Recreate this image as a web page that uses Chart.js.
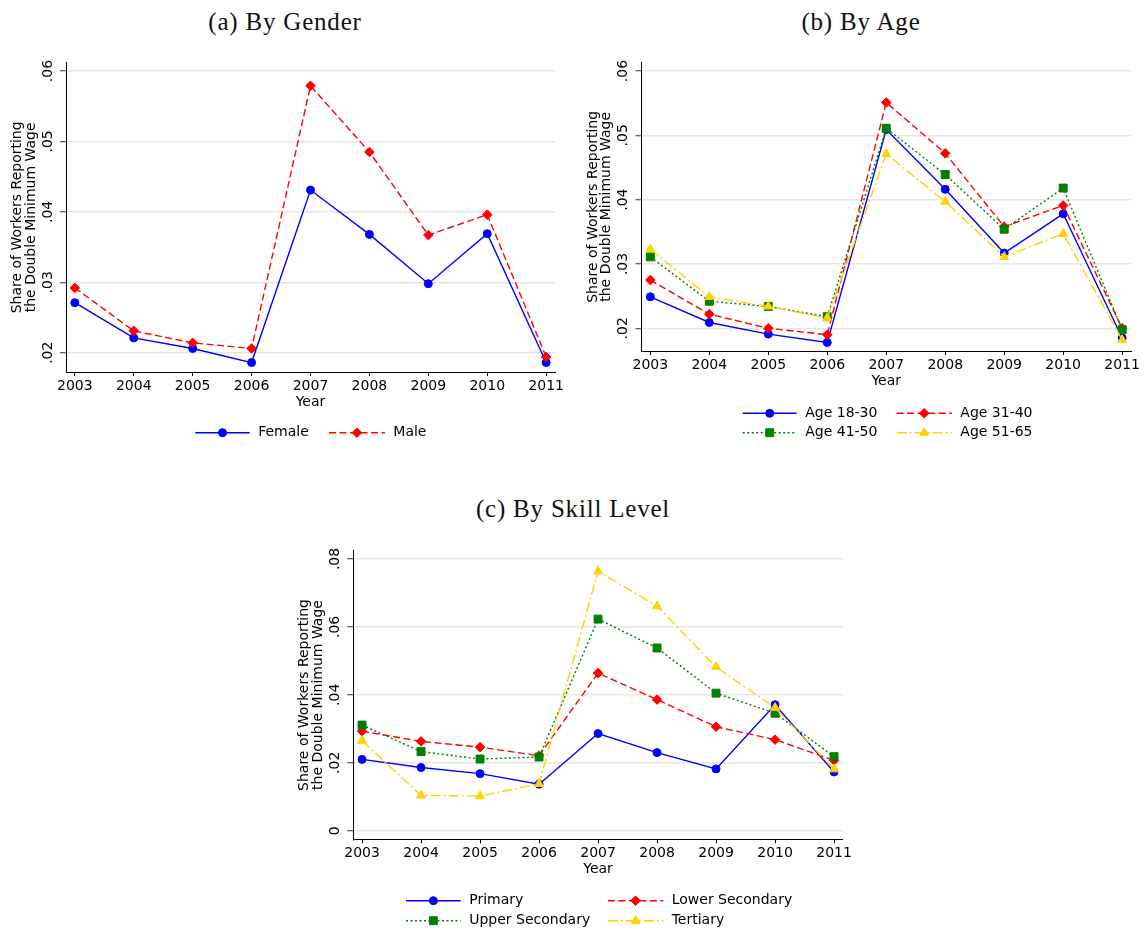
<!DOCTYPE html>
<html>
<head>
<meta charset="utf-8">
<script src="https://cdn.jsdelivr.net/npm/chart.js"></script>
<style>
  body { margin: 0; background: #fff; }
  #page { position: relative; width: 1146px; height: 931px; overflow: hidden; }
  canvas { position: absolute; }
  .panel-title {
    position: absolute; width: 400px; text-align: center;
    font-family: "Liberation Serif", serif; font-size: 25px; line-height: 30px;
    letter-spacing: 0.8px; color: #111;
  }
</style>
</head>
<body>
<div id="page">
  <div class="panel-title" style="left:85px; top:7px;">(a) By Gender</div>
  <div class="panel-title" style="left:661px; top:7px;">(b) By Age</div>
  <div class="panel-title" style="left:373px; top:494px;">(c) By Skill Level</div>
  <canvas id="genderChart" width="573" height="460" style="left:0; top:0;"></canvas>
  <canvas id="ageChart" width="573" height="460" style="left:573px; top:0;"></canvas>
  <canvas id="skillChart" width="580" height="461" style="left:280px; top:470px;"></canvas>
</div>
<script>
const years = [2003, 2004, 2005, 2006, 2007, 2008, 2009, 2010, 2011];

// (a) gender
const femaleShare = [0.0271, 0.0221, 0.0206, 0.0186, 0.0431, 0.0368, 0.0298, 0.0369, 0.0186];
const maleShare   = [0.0292, 0.0231, 0.0214, 0.0206, 0.0579, 0.0485, 0.0367, 0.0396, 0.0194];

// (b) age groups
const age1830 = [0.0249, 0.0209, 0.0191, 0.0178, 0.0509, 0.0416, 0.0317, 0.0378, 0.0185];
const age3140 = [0.0275, 0.0222, 0.0200, 0.0190, 0.0551, 0.0472, 0.0358, 0.0391, 0.0200];
const age4150 = [0.0311, 0.0242, 0.0234, 0.0218, 0.0511, 0.0439, 0.0354, 0.0418, 0.0198];
const age5165 = [0.0323, 0.0249, 0.0234, 0.0216, 0.0471, 0.0397, 0.0311, 0.0347, 0.0182];

// (c) skill level
const primaryShare   = [0.0210, 0.0186, 0.0168, 0.0137, 0.0286, 0.0230, 0.0182, 0.0371, 0.0173];
const lowerSecShare  = [0.0293, 0.0263, 0.0246, 0.0221, 0.0464, 0.0386, 0.0306, 0.0268, 0.0207];
const upperSecShare  = [0.0311, 0.0233, 0.0211, 0.0217, 0.0623, 0.0538, 0.0405, 0.0346, 0.0218];
const tertiaryShare  = [0.0265, 0.0104, 0.0102, 0.0138, 0.0764, 0.0661, 0.0482, 0.0362, 0.0181];

const shareTicks = [0.02, 0.03, 0.04, 0.05, 0.06];
const shareTickLabels = [".02", ".03", ".04", ".05", ".06"];
const skillTicks = [0, 0.02, 0.04, 0.06, 0.08];
const skillTickLabels = ["0", ".02", ".04", ".06", ".08"];

const yTitle = ["Share of Workers Reporting", "the Double Minimum Wage"];

Chart.defaults.font.family = '"DejaVu Sans", sans-serif';
Chart.defaults.font.size = 14;
Chart.defaults.color = "#000";

// stata-like line/marker combos
const looks = {
  blue:  { color: "#0000ff", dash: [],            pointStyle: "circle",   radius: 4 },
  red:   { color: "#ff0000", dash: [7, 3.5],      pointStyle: "rectRot",  radius: 4.8 },
  green: { color: "#008000", dash: [2, 2.5],      pointStyle: "rect",     radius: 5.6 },
  gold:  { color: "#ffd200", dash: [10, 3, 2, 3], pointStyle: "triangle", radius: 5.2 }
};

function makeSeries(label, values, look, order) {
  return {
    label: label,
    data: values.map((v, k) => ({ x: years[k], y: v })),
    borderColor: look.color,
    backgroundColor: look.color,
    borderWidth: 1.4,
    borderDash: look.dash,
    pointStyle: look.pointStyle,
    pointRadius: look.radius,
    pointBorderWidth: 1,
    pointBackgroundColor: look.color,
    pointBorderColor: look.color,
    tension: 0,
    order: order
  };
}

function drawMarker(ctx, ds, x, y) {
  ctx.fillStyle = ds.pointBackgroundColor;
  ctx.strokeStyle = ds.pointBorderColor;
  ctx.lineWidth = ds.pointBorderWidth;
  Chart.helpers.drawPoint(ctx, {
    pointStyle: ds.pointStyle, radius: ds.pointRadius, rotation: 0, borderWidth: ds.pointBorderWidth
  }, x, y);
}

// rotated y tick labels, two-line y title, "Year" and the legend
const stataFrame = {
  id: "stataFrame",
  afterDraw(chart, args, opts) {
    const ctx = chart.ctx;
    const area = chart.chartArea;
    const yScale = chart.scales.y;
    ctx.save();
    ctx.fillStyle = "#000";
    ctx.font = '14px "DejaVu Sans"';
    ctx.textAlign = "center";
    ctx.textBaseline = "middle";

    yScale.ticks.forEach((t) => {
      const i = opts.tickValues.indexOf(t.value);
      const y = yScale.getPixelForValue(t.value);
      ctx.save();
      ctx.translate(area.left - 18, y);
      ctx.rotate(-Math.PI / 2);
      ctx.fillText(opts.tickLabels[i], 0, 0);
      ctx.restore();
    });

    const midY = (area.top + area.bottom) / 2;
    yTitle.forEach((line, i) => {
      ctx.save();
      ctx.translate(area.left - 48.5 + i * 13.5, midY);
      ctx.rotate(-Math.PI / 2);
      ctx.fillText(line, 0, 0);
      ctx.restore();
    });

    ctx.fillText("Year", (area.left + area.right) / 2, area.bottom + 30);

    opts.legend.forEach((item) => {
      const ds = chart.data.datasets[item.index];
      ctx.save();
      ctx.strokeStyle = ds.borderColor;
      ctx.lineWidth = ds.borderWidth;
      ctx.setLineDash(ds.borderDash);
      ctx.beginPath();
      ctx.moveTo(item.x0, item.y);
      ctx.lineTo(item.x1, item.y);
      ctx.stroke();
      ctx.setLineDash([]);
      drawMarker(ctx, ds, (item.x0 + item.x1) / 2, item.y);
      ctx.restore();
      ctx.textAlign = "left";
      ctx.fillText(ds.label, item.x1 + 8.5, item.y);
    });
    ctx.restore();
  }
};

function buildChart(id, datasets, yMin, yMax, tickValues, tickLabels, padding, legend) {
  return new Chart(document.getElementById(id), {
    type: "line",
    data: { datasets: datasets },
    plugins: [stataFrame],
    options: {
      responsive: false,
      animation: false,
      layout: { autoPadding: false, padding: padding },
      plugins: {
        legend: { display: false },
        title: { display: false },
        tooltip: { enabled: false },
        stataFrame: { tickValues: tickValues, tickLabels: tickLabels, legend: legend }
      },
      scales: {
        x: {
          type: "linear",
          min: 2002.85,
          max: 2011.15,
          afterBuildTicks: (s) => { s.ticks = years.map((v) => ({ value: v })); },
          afterFit: (s) => { s.height = 40; },
          ticks: { callback: (v) => String(v), padding: 2, maxRotation: 0, autoSkip: false, color: "#000" },
          grid: { drawOnChartArea: false, drawTicks: true, tickLength: 4, tickColor: "#000", tickWidth: 1 },
          border: { display: true, color: "#000", width: 1 }
        },
        y: {
          type: "linear",
          min: yMin,
          max: yMax,
          afterBuildTicks: (s) => { s.ticks = tickValues.map((v) => ({ value: v })); },
          afterFit: (s) => { s.width = 56; },
          ticks: { display: false },
          grid: { color: "#e6e6e6", lineWidth: 1.5, drawTicks: true, tickLength: 6, tickColor: "#333", tickWidth: 1 },
          border: { display: true, color: "#000", width: 1 }
        }
      }
    }
  });
}

buildChart("genderChart", [
  makeSeries("Female", femaleShare, looks.blue, 2),
  makeSeries("Male", maleShare, looks.red, 1)
], 0.01726, 0.06118, shareTicks, shareTickLabels,
  { left: 10, right: 18, top: 62.7, bottom: 48 },
  [
    { index: 0, x0: 195.3, x1: 249.7, y: 432.7 },
    { index: 1, x0: 329, x1: 384.8, y: 432.7 }
  ]);

buildChart("ageChart", [
  makeSeries("Age 18-30", age1830, looks.blue, 4),
  makeSeries("Age 31-40", age3140, looks.red, 3),
  makeSeries("Age 41-50", age4150, looks.green, 2),
  makeSeries("Age 51-65", age5165, looks.gold, 1)
], 0.01647, 0.06129, shareTicks, shareTickLabels,
  { left: 12.5, right: 15, top: 62.7, bottom: 69 },
  [
    { index: 0, x0: 742.7 - 573, x1: 796.7 - 573, y: 413.3 },
    { index: 1, x0: 896.6 - 573, x1: 951.8 - 573, y: 413.3 },
    { index: 2, x0: 742.7 - 573, x1: 796.7 - 573, y: 432.7 },
    { index: 3, x0: 896.6 - 573, x1: 951.8 - 573, y: 432.7 }
  ]);

buildChart("skillChart", [
  makeSeries("Primary", primaryShare, looks.blue, 4),
  makeSeries("Lower Secondary", lowerSecShare, looks.red, 3),
  makeSeries("Upper Secondary", upperSecShare, looks.green, 2),
  makeSeries("Tertiary", tertiaryShare, looks.gold, 1)
], -0.00253, 0.08244, skillTicks, skillTickLabels,
  { left: 17.2, right: 17.1, top: 80.7, bottom: 51.7 },
  [
    { index: 0, x0: 406 - 280, x1: 460.7 - 280, y: 900.7 - 470 },
    { index: 1, x0: 607.9 - 280, x1: 663.2 - 280, y: 900.7 - 470 },
    { index: 2, x0: 406 - 280, x1: 460.7 - 280, y: 920.7 - 470 },
    { index: 3, x0: 607.9 - 280, x1: 663.2 - 280, y: 920.7 - 470 }
  ]);
</script>
</body>
</html>
